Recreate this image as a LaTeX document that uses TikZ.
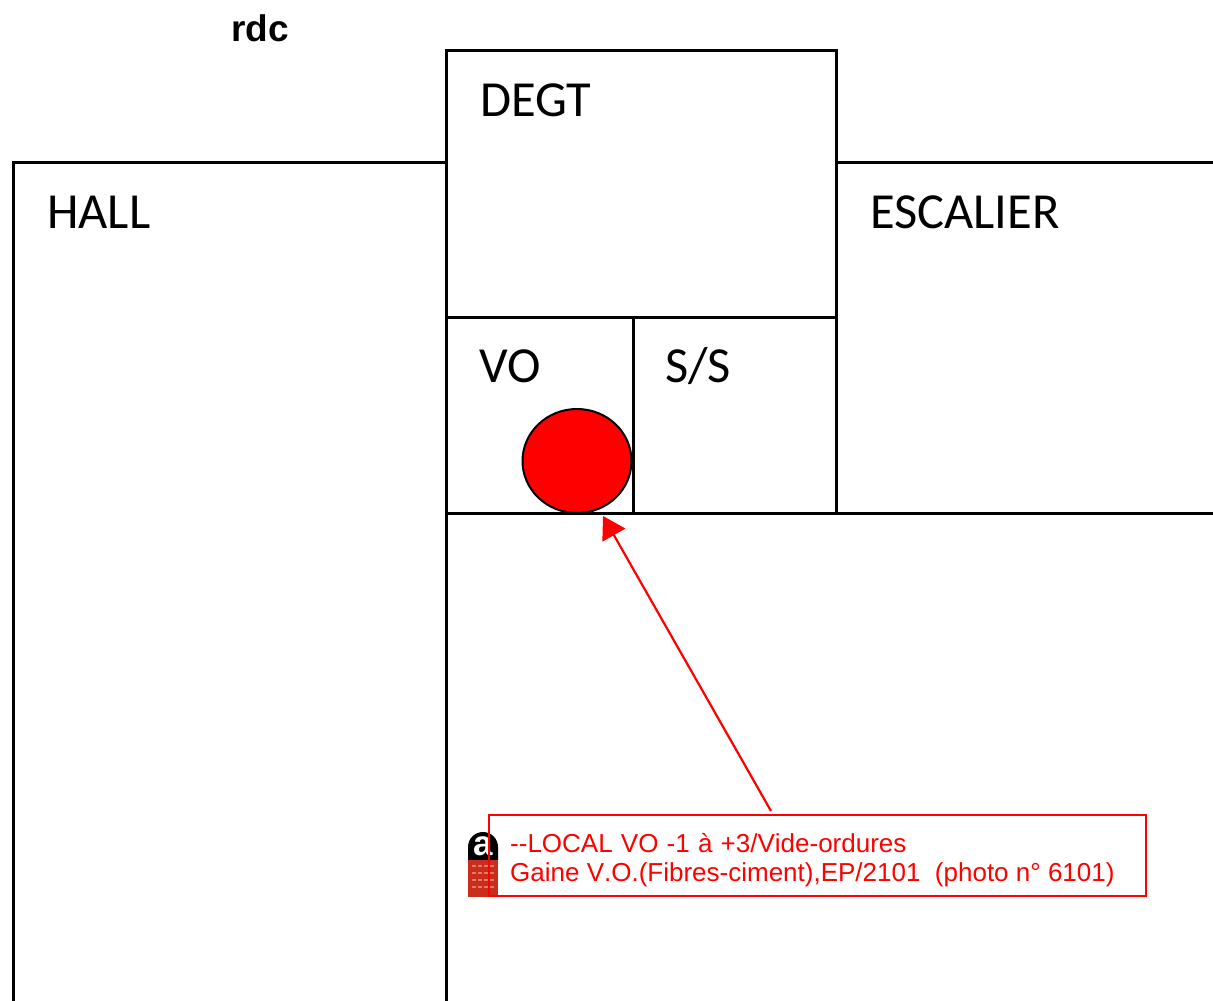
\documentclass[tikz,border=0pt]{standalone}
\usepackage{fontspec}
\setmainfont{Liberation Sans}
\newfontfamily\roomfont{Carlito}
\newfontfamily\calloutfont[Kerning=Off]{Liberation Sans}
\usetikzlibrary{arrows.meta,shapes.geometric}
\definecolor{lockred}{RGB}{200,45,30}
\definecolor{lockmark}{RGB}{225,120,105}
\tikzset{
  wall/.style={draw=black,line width=3pt},
  thinwall/.style={draw=black,line width=3pt},
  room/.style={anchor=base west,inner sep=0pt,font=\roomfont\fontsize{50.5}{50}\selectfont,text=black},
  callout/.style={draw=red,line width=2pt,minimum width=657pt,minimum height=81pt,anchor=north west,inner sep=0pt,outer sep=0pt},
  callouttext/.style={anchor=base west,inner sep=0pt,text=red,font=\calloutfont\fontsize{26}{26}\selectfont},
  leader/.style={draw=red,line width=2.2pt,-{Triangle[length=22pt,width=26pt]}},
  lockmarks/.style={draw=lockmark,line width=1.5pt,dash pattern=on 4pt off 2pt}
}
\begin{document}
\begin{tikzpicture}[x=1pt,y=-1pt]
\useasboundingbox (0,0) rectangle (1213,1001);
% walls
\draw[wall] (13.5,1001) -- (13.5,162.5) -- (446.5,162.5);
\draw[wall] (446.5,1001) -- (446.5,50.5) -- (836.5,50.5) -- (836.5,317) -- (446.5,317);
\draw[wall] (836.5,162.5) -- (1213,162.5);
\draw[thinwall] (836.5,317) -- (836.5,513.5);
\draw[thinwall] (633.5,317) -- (633.5,513.5);
\draw[thinwall] (446.5,513.5) -- (1213,513.5);
% circle
\node[ellipse,draw=black,fill=red,line width=2pt,minimum width=109pt,minimum height=104pt,inner sep=0pt,outer sep=0pt] (vo) at (577,461) {};
% labels
\node[anchor=base,inner sep=0pt,font=\bfseries\fontsize{37}{37}\selectfont] (title) at (260,41) {rdc};
\node[room] (degt) at (480,116) {DEGT};
\node[room] (hall) at (47,228) {HALL};
\node[room] (esc) at (870,228) {ESCALIER};
\node[room] (vol) at (479,382) {VO};
\node[room] (ss) at (665,382) {S/S};
% lock icon
\fill[black] (468,860) -- (468,847) arc[start angle=180,end angle=360,radius=15] -- (498,860) -- cycle;
\fill[lockred] (468,860) rectangle (498,897);
\draw[lockmarks] (472,866) -- (494,866);
\draw[lockmarks] (472,873) -- (494,873);
\draw[lockmarks] (472,880) -- (494,880);
\draw[lockmarks] (472,887) -- (494,887);
\node[inner sep=0pt,text=white,font=\bfseries\fontsize{35}{35}\selectfont] (locka) at (483,846) {a};
% callout
\node[callout] (box) at (488.5,815) {};
\node[callouttext] (l1) at (510,852) {\spaceskip=8.2pt -\kern0pt-LOCAL VO -1 à +3/Vide-ordures};
\node[callouttext] (l2) at (510,881) {Gaine V.O.(Fibres-ciment),EP/2101\ \ (photo n° 6101)};
% leader
\coordinate (from) at (771,811);
\coordinate (to) at (603,516);
\draw[leader] (from) -- (to);
\end{tikzpicture}
\end{document}
